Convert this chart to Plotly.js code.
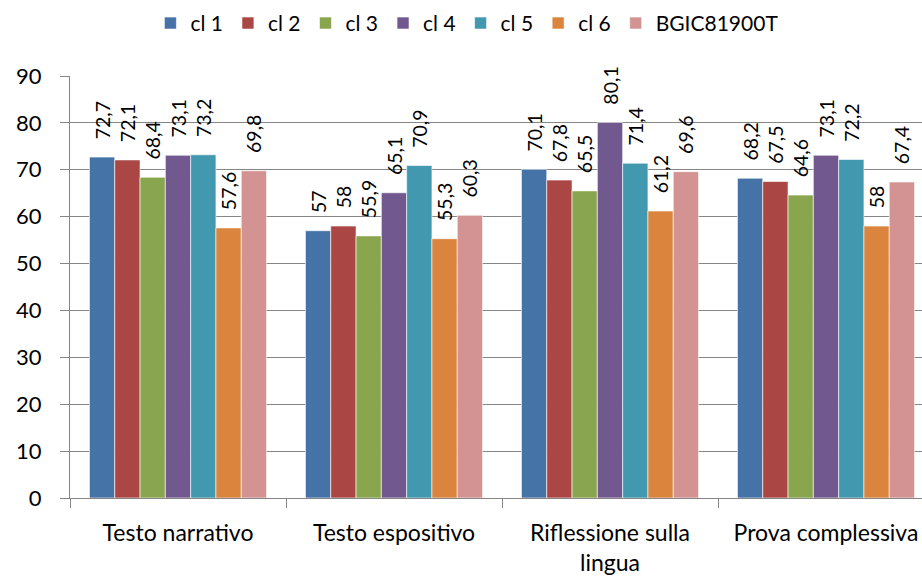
<!DOCTYPE html>
<html><head><meta charset="utf-8">
<script src="https://cdn.plot.ly/plotly-3.0.1.min.js"></script>
<style>html,body{margin:0;padding:0;overflow:hidden;background:#fff;width:922px;height:579px}#c{width:940px;height:579px}</style>
</head><body><div id="c"></div>
<script>
const categories = ["Testo narrativo", "Testo espositivo", "Riflessione sulla<br>lingua", "Prova complessiva"];
const seriesNames = ["cl 1", "cl 2", "cl 3", "cl 4", "cl 5", "cl 6", "BGIC81900T"];
const cl1 = [72.7, 57, 70.1, 68.2];
const cl2 = [72.1, 58, 67.8, 67.5];
const cl3 = [68.4, 55.9, 65.5, 64.6];
const cl4 = [73.1, 65.1, 80.1, 73.1];
const cl5 = [73.2, 70.9, 71.4, 72.2];
const cl6 = [57.6, 55.3, 61.2, 58];
const bgic = [69.8, 60.3, 69.6, 67.4];
const colors = ["#4572A7", "#AA4643", "#89A54E", "#71588F", "#4198AF", "#DB843D", "#D49393"];
const yTicks = [0, 10, 20, 30, 40, 50, 60, 70, 80, 90];

const allSeries = [cl1, cl2, cl3, cl4, cl5, cl6, bgic];
const fontFam = "Lato, 'Open Sans', sans-serif";
const traces = allSeries.map((vals, i) => ({
  type: "bar",
  name: seriesNames[i],
  x: categories,
  y: vals,
  text: vals.map(v => "\u2002\u00a0" + String(v).replace(".", ",")),
  textposition: "outside",
  textangle: -90,
  constraintext: "none",
  cliponaxis: false,
  textfont: {family: fontFam, size: 19.5, color: "#000"},
  marker: {color: colors[i], line: {color: "rgba(255,255,255,0.6)", width: 1}},
  hoverinfo: "none"
}));

const layout = {
  width: 940, height: 579,
  margin: {l: 70, r: 6, t: 76, b: 81},
  paper_bgcolor: "#fff", plot_bgcolor: "#fff",
  barmode: "group", bargap: 0.18, bargroupgap: 0,
  font: {family: fontFam, color: "#000"},
  showlegend: true,
  legend: {orientation: "h", xref: "container", yref: "container", x: 0.16, y: 0.995, xanchor: "left", yanchor: "top",
           font: {family: fontFam, size: 21, color: "#000"}, itemwidth: 30, traceorder: "normal"},
  xaxis: {type: "category", range: [-0.5, 3.5], showline: true, linecolor: "#868686", linewidth: 1,
          ticks: "outside", tickson: "boundaries", ticklen: 9, tickcolor: "#868686",
          tickfont: {family: fontFam, size: 23, color: "#000"}, ticklabelstandoff: 14, showgrid: false, zeroline: false},
  yaxis: {range: [0, 90], tickvals: yTicks, ticktext: yTicks.map(String), showline: true, linecolor: "#868686", linewidth: 1,
          ticks: "outside", ticklen: 9, tickcolor: "#868686", showgrid: true, gridcolor: "#868686", gridwidth: 1,
          zeroline: false, tickfont: {family: fontFam, size: 22, color: "#000"}, ticklabelstandoff: 14}
};
Plotly.newPlot("c", traces, layout, {staticPlot: true, displayModeBar: false});
</script></body></html>
